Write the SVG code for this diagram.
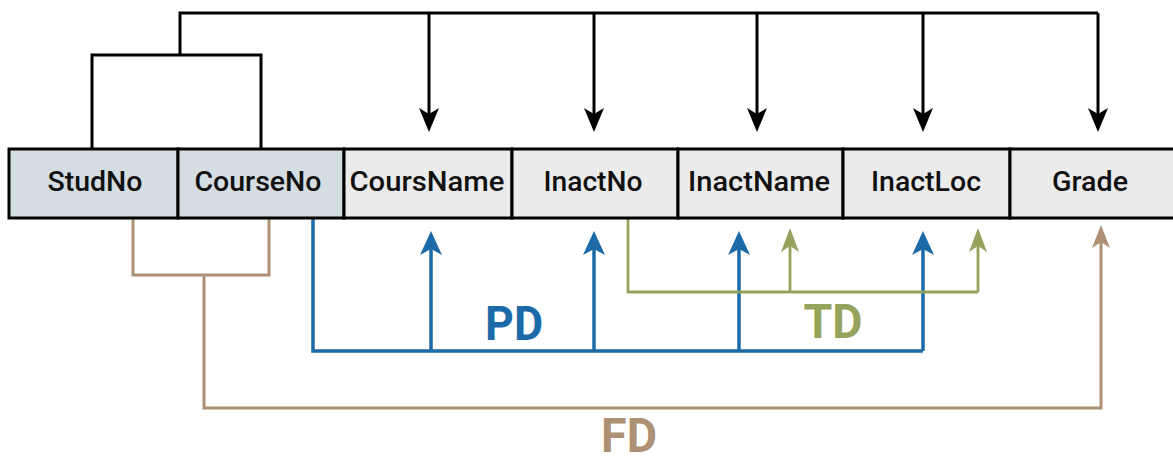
<svg xmlns="http://www.w3.org/2000/svg" width="1173" height="457" viewBox="0 0 1173 457">
  <style>
    .cell { stroke: #000; stroke-width: 3; }
    .key { fill: #d4dde1; }
    .attr { fill: #ebebeb; }
    .lbl { font-family: Roboto, "Liberation Sans", sans-serif; font-weight: 500; font-size: 28px; fill: #111; text-anchor: middle; }
    .big { font-family: Roboto, "Liberation Sans", sans-serif; font-weight: 700; font-size: 49px; text-anchor: middle; }
    .blk { stroke: #000; stroke-width: 3; fill: none; }
    .blu { stroke: #1d6aa8; stroke-width: 3.5; fill: none; }
    .grn { stroke: #95a35c; stroke-width: 2.8; fill: none; }
    .brn { stroke: #ad9075; stroke-width: 3; fill: none; }
  </style>
  <defs>
    <marker id="aBlk" viewBox="0 0 24 20" refX="6" refY="10" markerWidth="24" markerHeight="20" markerUnits="userSpaceOnUse" orient="auto">
      <path d="M0,0 L24,10 L0,20 L6,10 Z" fill="#000"/>
    </marker>
    <marker id="aBlu" viewBox="0 0 24 22" refX="6" refY="11" markerWidth="24" markerHeight="22" markerUnits="userSpaceOnUse" orient="auto">
      <path d="M0,0 L24,11 L0,22 L6,11 Z" fill="#1d6aa8"/>
    </marker>
    <marker id="aGrn" viewBox="0 0 24 18" refX="6" refY="9" markerWidth="24" markerHeight="18" markerUnits="userSpaceOnUse" orient="auto">
      <path d="M0,0 L24,9 L0,18 L6,9 Z" fill="#95a35c"/>
    </marker>
    <marker id="aBrn" viewBox="0 0 23 18" refX="6" refY="9" markerWidth="23" markerHeight="18" markerUnits="userSpaceOnUse" orient="auto">
      <path d="M0,0 L23,9 L0,18 L6,9 Z" fill="#ad9075"/>
    </marker>
  </defs>
  <rect width="1173" height="457" fill="#fff"/>

  <g id="connectors">
    <path class="blk" d="M92,149 V55 H261 V149"/>
    <path class="blk" d="M180,55 V13 H1098"/>
    <path class="blk" d="M429,13 V114" marker-end="url(#aBlk)"/>
    <path class="blk" d="M594,13 V114" marker-end="url(#aBlk)"/>
    <path class="blk" d="M757,13 V114" marker-end="url(#aBlk)"/>
    <path class="blk" d="M923,13 V114" marker-end="url(#aBlk)"/>
    <path class="blk" d="M1098,13 V114" marker-end="url(#aBlk)"/>
    <path class="blu" d="M313,218 V351 H923"/>
    <path class="blu" d="M431,351 V249" marker-end="url(#aBlu)"/>
    <path class="blu" d="M594,351 V249" marker-end="url(#aBlu)"/>
    <path class="blu" d="M739,351 V249" marker-end="url(#aBlu)"/>
    <path class="blu" d="M923,351 V249" marker-end="url(#aBlu)"/>
    <path class="grn" d="M628,218 V292 H978"/>
    <path class="grn" d="M790,292 V246" marker-end="url(#aGrn)"/>
    <path class="grn" d="M978,292 V246" marker-end="url(#aGrn)"/>
    <path class="brn" d="M133,218 V275 H269 V218"/>
    <path class="brn" d="M204,275 V408 H1101 V242" marker-end="url(#aBrn)"/>
  </g>

  <g id="n-StudNo">
    <rect class="cell key" x="9" y="149" width="169" height="69"/>
    <text class="lbl" x="95" y="191" textLength="95" lengthAdjust="spacingAndGlyphs">StudNo</text>
  </g>
  <g id="n-CourseNo">
    <rect class="cell key" x="178" y="149" width="166" height="69"/>
    <text class="lbl" x="258" y="191" textLength="127" lengthAdjust="spacingAndGlyphs">CourseNo</text>
  </g>
  <g id="n-CoursName">
    <rect class="cell attr" x="344" y="149" width="168" height="69"/>
    <text class="lbl" x="427" y="191" textLength="155" lengthAdjust="spacingAndGlyphs">CoursName</text>
  </g>
  <g id="n-InactNo">
    <rect class="cell attr" x="512" y="149" width="166" height="69"/>
    <text class="lbl" x="593" y="191" textLength="99" lengthAdjust="spacingAndGlyphs">InactNo</text>
  </g>
  <g id="n-InactName">
    <rect class="cell attr" x="678" y="149" width="165" height="69"/>
    <text class="lbl" x="759" y="191" textLength="142" lengthAdjust="spacingAndGlyphs">InactName</text>
  </g>
  <g id="n-InactLoc">
    <rect class="cell attr" x="843" y="149" width="167" height="69"/>
    <text class="lbl" x="926" y="191" textLength="110" lengthAdjust="spacingAndGlyphs">InactLoc</text>
  </g>
  <g id="n-Grade">
    <rect class="cell attr" x="1010" y="149" width="170" height="69"/>
    <text class="lbl" x="1090" y="191" textLength="76" lengthAdjust="spacingAndGlyphs">Grade</text>
  </g>

  <g id="labels">
    <text class="big" x="514" y="340" fill="#1d6aa8" textLength="58" lengthAdjust="spacingAndGlyphs">PD</text>
    <text class="big" x="833" y="338" fill="#95a35c" textLength="59" lengthAdjust="spacingAndGlyphs">TD</text>
    <text class="big" x="629" y="452" fill="#ad9075" textLength="56" lengthAdjust="spacingAndGlyphs">FD</text>
  </g>
</svg>
